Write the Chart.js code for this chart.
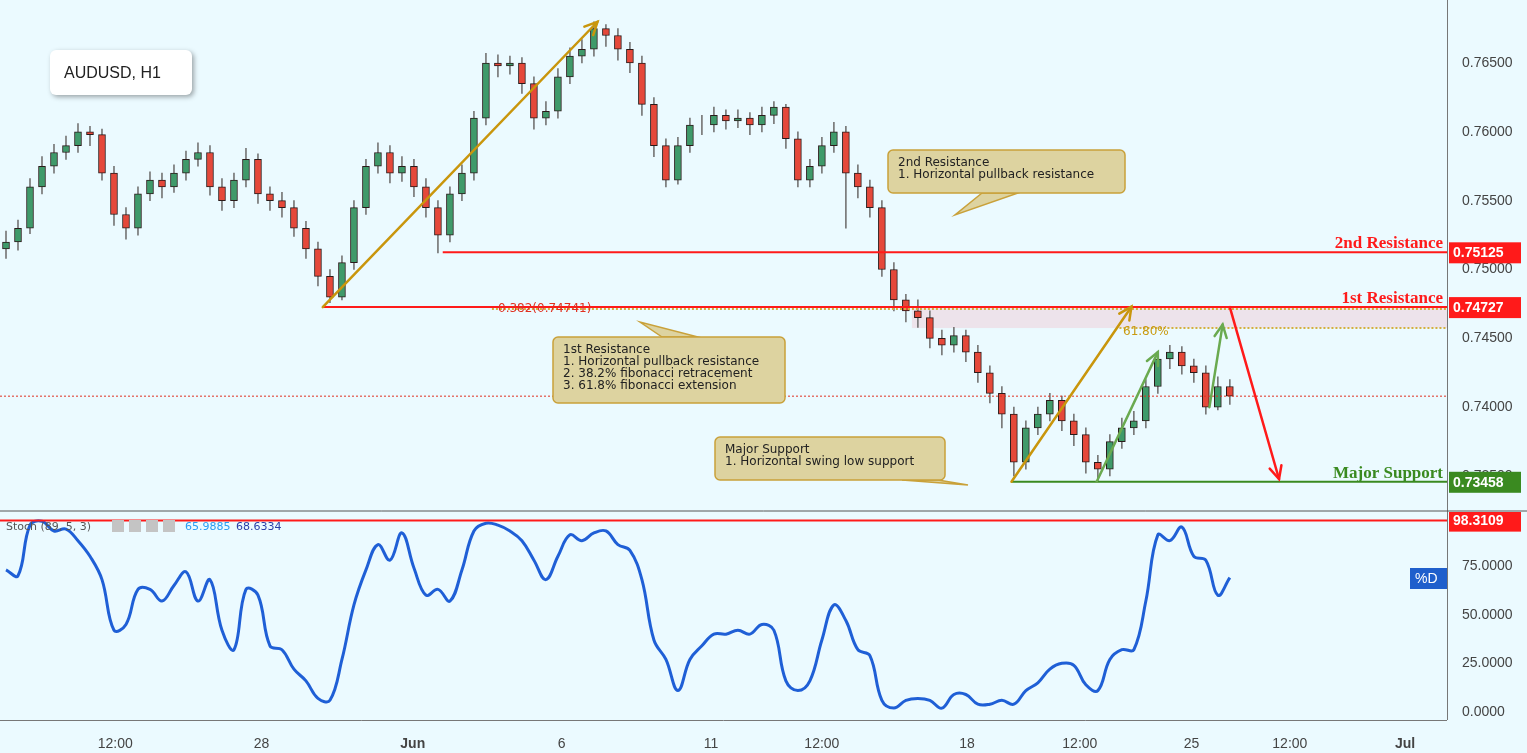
<!DOCTYPE html>
<html><head><meta charset="utf-8">
<script src="https://cdn.jsdelivr.net/npm/chart.js@4.4.0/dist/chart.umd.min.js"></script>
<style>
body{margin:0;background:#ebfaff;font-family:"Liberation Sans",Arial,sans-serif;overflow:hidden}
#wrap{position:relative;width:1527px;height:753px}
#top{position:absolute;left:0;top:0}
#bot{position:absolute;left:0;top:512px}
</style></head><body>
<div id="wrap"><canvas id="top" width="1527" height="512"></canvas><canvas id="bot" width="1527" height="241"></canvas></div>
<script>
// price candles (H1 sampled), first open then previous close
const firstOpen = 0.7515;
const closes = [0.7520,0.7530,0.7560,0.7575,0.7585,0.7590,0.7600,0.7598,0.7570,0.7540,0.7530,0.7555,0.7565,0.7560,0.7570,0.7580,0.7585,0.7560,0.7550,0.7565,0.7580,0.7555,0.7550,0.7545,0.7530,0.7515,0.7495,0.7480,0.7505,0.7545,0.7575,0.7585,0.7570,0.7575,0.7560,0.7545,0.7525,0.7555,0.7570,0.7610,0.7650,0.7648,0.7650,0.7635,0.7610,0.7615,0.7640,0.7655,0.7660,0.7675,0.7670,0.7660,0.7650,0.7620,0.7590,0.7565,0.7590,0.7605,0.7605,0.7612,0.7608,0.7610,0.7605,0.7612,0.7618,0.7595,0.7565,0.7575,0.7590,0.7600,0.7570,0.7560,0.7545,0.7500,0.7478,0.7470,0.7465,0.7450,0.7445,0.7452,0.7440,0.7425,0.7410,0.7395,0.7360,0.7385,0.7395,0.7405,0.7390,0.7380,0.7360,0.7355,0.7375,0.7385,0.7390,0.7415,0.7435,0.7440,0.7430,0.7425,0.7400,0.7415,0.7408];
const highs = [0.7528,0.7536,0.7566,0.7582,0.7591,0.7597,0.7606,0.7604,0.7602,0.7575,0.7545,0.7560,0.7571,0.7570,0.7576,0.7586,0.7592,0.7590,0.7566,0.7570,0.7588,0.7584,0.7560,0.7556,0.7550,0.7535,0.7520,0.7500,0.7510,0.7550,0.7580,0.7592,0.7590,0.7582,0.7580,0.7566,0.7550,0.7560,0.7576,0.7615,0.7657,0.7656,0.7655,0.7654,0.7640,0.7622,0.7646,0.7661,0.7667,0.7680,0.7678,0.7675,0.7665,0.7655,0.7625,0.7595,0.7596,0.7610,0.7612,0.7618,0.7616,0.7616,0.7614,0.7618,0.7622,0.7620,0.7600,0.7580,0.7596,0.7607,0.7604,0.7576,0.7565,0.7550,0.7505,0.7482,0.7478,0.7470,0.7456,0.7458,0.7456,0.7445,0.7430,0.7415,0.7400,0.7390,0.7400,0.7410,0.7408,0.7395,0.7385,0.7365,0.7380,0.7392,0.7397,0.7420,0.7440,0.7445,0.7444,0.7435,0.7430,0.7422,0.7420];
const lows = [0.7508,0.7514,0.7526,0.7555,0.7570,0.7580,0.7585,0.7590,0.7565,0.7532,0.7522,0.7525,0.7550,0.7552,0.7556,0.7565,0.7575,0.7554,0.7543,0.7545,0.7560,0.7548,0.7543,0.7538,0.7524,0.7508,0.7488,0.7476,0.7478,0.7500,0.7540,0.7570,0.7563,0.7564,0.7553,0.7538,0.7512,0.7520,0.7550,0.7565,0.7605,0.7640,0.7642,0.7628,0.7602,0.7605,0.7610,0.7635,0.7650,0.7655,0.7662,0.7652,0.7643,0.7612,0.7582,0.7560,0.7562,0.7585,0.7598,0.7600,0.7602,0.7603,0.7598,0.7600,0.7606,0.7588,0.7560,0.7560,0.7570,0.7585,0.7530,0.7552,0.7538,0.7495,0.7470,0.7462,0.7458,0.7443,0.7438,0.7440,0.7433,0.7418,0.7403,0.7385,0.7350,0.7355,0.7380,0.7390,0.7383,0.7372,0.7352,0.7346,0.7350,0.7370,0.7380,0.7385,0.7410,0.7428,0.7424,0.7418,0.7395,0.7398,0.7402];
const opens = closes.map((c, i) => i === 0 ? firstOpen : closes[i - 1]);

// stochastic %D
const stoch = [73,70,96,98,93,94,88,80,68,42,45,63,63,57,65,72,57,68,42,32,63,60,34,32,22,16,7,6,27,55,73,86,78,92,74,60,63,57,73,93,97,96,93,88,78,68,80,91,88,92,93,86,83,68,37,27,11,27,34,40,40,42,40,45,42,16,11,16,37,55,47,32,29,6,2,6,7,6,2,9,9,4,4,6,4,11,15,22,25,24,14,11,27,32,32,57,91,88,95,80,78,60,69];

const priceTicks = [0.735,0.740,0.745,0.750,0.755,0.760,0.765];
const stochTicks = [0,25,50,75];
const timeTickPos = [9.6,21.8,34.4,46.8,59.25,68.5,80.6,90,99.3,107.5,117.1];
const timeTickLabels = ['12:00','28','Jun','6','11','12:00','18','12:00','25','12:00','Jul'];

const resistance2 = 0.75125, resistance1 = 0.74727, support = 0.73458, lastPrice = 0.7408, fib618 = 0.74575;
const stochMax = 98.3109;

const bg = '#ebfaff';
const xMax = 120.6;

function arrow(ctx, x1, y1, x2, y2, color, w) {
  ctx.save();
  ctx.strokeStyle = color; ctx.lineWidth = w; ctx.lineCap = 'round';
  ctx.beginPath(); ctx.moveTo(x1, y1); ctx.lineTo(x2, y2); ctx.stroke();
  const a = Math.atan2(y2 - y1, x2 - x1), L = 14;
  ctx.beginPath();
  ctx.moveTo(x2 - L * Math.cos(a - 0.45), y2 - L * Math.sin(a - 0.45));
  ctx.lineTo(x2, y2);
  ctx.lineTo(x2 - L * Math.cos(a + 0.45), y2 - L * Math.sin(a + 0.45));
  ctx.stroke();
  ctx.restore();
}

function callout(ctx, x, y, w, h, tx, ty, bx, lines) {
  ctx.save();
  ctx.fillStyle = '#ddd3a0'; ctx.strokeStyle = '#c9a13a'; ctx.lineWidth = 1.5;
  const by = ty > y + h ? y + h : y;
  ctx.beginPath();
  ctx.moveTo(bx - 18, by); ctx.lineTo(tx, ty); ctx.lineTo(bx + 18, by);
  ctx.closePath(); ctx.fill(); ctx.stroke();
  ctx.beginPath();
  ctx.roundRect(x, y, w, h, 5);
  ctx.fill(); ctx.stroke();
  ctx.fillStyle = '#222'; ctx.font = '12px "DejaVu Sans"'; ctx.textBaseline = 'top';
  lines.forEach((t, i) => ctx.fillText(t, x + 10, y + 7 + i * 12));
  ctx.restore();
}

function tag(ctx, x, y, text, color, w) {
  ctx.save();
  ctx.fillStyle = color; ctx.fillRect(x, y - 10, w || 72, 21);
  ctx.fillStyle = '#fff'; ctx.font = 'bold 14px "Liberation Sans"'; ctx.textBaseline = 'middle';
  ctx.fillText(text, x + 4, y + 1);
  ctx.restore();
}

function axisLabels(ctx, y, ticks, fmt) {
  ctx.save();
  ctx.fillStyle = '#444'; ctx.font = '14px "Liberation Sans"'; ctx.textBaseline = 'middle';
  ticks.forEach(v => ctx.fillText(fmt(v), 1462, y.getPixelForValue(v)));
  ctx.restore();
}

const topOverlay = {
  id: 'topOverlay',
  beforeDraw(chart) {
    const { ctx, chartArea: ca, scales: { x, y } } = chart;
    ctx.save();
    ctx.fillStyle = bg; ctx.fillRect(0, 0, chart.width, chart.height);
    ctx.fillStyle = 'rgba(240,200,210,0.45)';
    ctx.fillRect(x.getPixelForValue(76), y.getPixelForValue(resistance1), ca.right - x.getPixelForValue(76), y.getPixelForValue(fib618) - y.getPixelForValue(resistance1));
    ctx.restore();
  },
  afterDatasetsDraw(chart) {
    const { ctx, chartArea: ca, scales: { x, y } } = chart;
    const px = v => x.getPixelForValue(v), py = v => y.getPixelForValue(v);
    ctx.save();
    ctx.setLineDash([2, 2]); ctx.strokeStyle = '#e03020'; ctx.lineWidth = 1;
    ctx.beginPath(); ctx.moveTo(ca.left, py(lastPrice)); ctx.lineTo(ca.right, py(lastPrice)); ctx.stroke();
    ctx.strokeStyle = '#d4b040'; ctx.lineWidth = 2;
    ctx.beginPath(); ctx.moveTo(px(93.3), py(fib618)); ctx.lineTo(ca.right, py(fib618)); ctx.stroke();
    ctx.beginPath(); ctx.moveTo(px(41), py(resistance1) + 2); ctx.lineTo(ca.right, py(resistance1) + 2); ctx.stroke();
    ctx.setLineDash([]);
    ctx.strokeStyle = '#ff1a1a'; ctx.lineWidth = 2;
    ctx.beginPath(); ctx.moveTo(px(36.9), py(resistance2)); ctx.lineTo(ca.right, py(resistance2)); ctx.stroke();
    ctx.beginPath(); ctx.moveTo(px(26.9), py(resistance1)); ctx.lineTo(ca.right, py(resistance1)); ctx.stroke();
    ctx.strokeStyle = '#3a8a20';
    ctx.beginPath(); ctx.moveTo(px(84.3), py(support)); ctx.lineTo(ca.right, py(support)); ctx.stroke();

    ctx.font = '12px "DejaVu Sans"';
    ctx.fillStyle = '#e03020'; ctx.fillText('0.382(0.74741)', 498, 312);
    ctx.fillStyle = '#c99a10'; ctx.fillText('61.80%', 1123, 335);

    arrow(ctx, px(26.9), py(resistance1), px(49.8), py(0.7680), '#c9960c', 2.5);
    arrow(ctx, px(84.3), py(support), px(94.3), py(0.7473), '#c9960c', 2.5);
    arrow(ctx, px(91.4), py(support), px(96.5), py(0.7440), '#6aaa50', 2.5);
    arrow(ctx, px(100.8), py(0.7400), px(101.9), py(0.7460), '#6aaa50', 2.5);
    arrow(ctx, px(102.5), py(resistance1), px(106.6), py(support + 0.0002), '#ff1a1a', 2.5);

    ctx.font = 'bold 17px "Liberation Serif"'; ctx.textAlign = 'right';
    ctx.fillStyle = '#ff1a1a';
    ctx.fillText('2nd Resistance', 1443, py(resistance2) - 4);
    ctx.fillText('1st Resistance', 1443, py(resistance1) - 4);
    ctx.fillStyle = '#3a8a20';
    ctx.fillText('Major Support', 1443, py(support) - 4);
    ctx.textAlign = 'left';

    callout(ctx, 888, 150, 237, 43, 955, 215, 1000, ['2nd Resistance', '1. Horizontal pullback resistance']);
    callout(ctx, 553, 337, 232, 66, 640, 322, 680, ['1st Resistance', '1. Horizontal pullback resistance', '2. 38.2% fibonacci retracement', '3. 61.8% fibonacci extension']);
    callout(ctx, 715, 437, 230, 43, 968, 485, 920, ['Major Support', '1. Horizontal swing low support']);

    ctx.shadowColor = 'rgba(0,0,0,0.35)'; ctx.shadowBlur = 5; ctx.shadowOffsetX = 2; ctx.shadowOffsetY = 2;
    ctx.fillStyle = '#fff'; ctx.beginPath(); ctx.roundRect(50, 50, 142, 45, 6); ctx.fill();
    ctx.shadowColor = 'transparent';
    ctx.fillStyle = '#222'; ctx.font = '16px "Liberation Sans"'; ctx.fillText('AUDUSD, H1', 64, 78);

    ctx.strokeStyle = '#777'; ctx.lineWidth = 1;
    ctx.beginPath(); ctx.moveTo(1447.5, 0); ctx.lineTo(1447.5, chart.height); ctx.stroke();
    ctx.strokeStyle = '#555';
    ctx.beginPath(); ctx.moveTo(0, 511); ctx.lineTo(chart.width, 511); ctx.stroke();
    axisLabels(ctx, y, priceTicks, v => v.toFixed(5));
    tag(ctx, 1449, py(resistance2), '0.75125', '#ff1a1a');
    tag(ctx, 1449, py(resistance1), '0.74727', '#ff1a1a');
    tag(ctx, 1449, py(support), '0.73458', '#3a8a20');
    ctx.restore();
  }
};

const botOverlay = {
  id: 'botOverlay',
  beforeDraw(chart) {
    const { ctx } = chart;
    ctx.save(); ctx.fillStyle = bg; ctx.fillRect(0, 0, chart.width, chart.height); ctx.restore();
  },
  afterDatasetsDraw(chart) {
    const { ctx, chartArea: ca, scales: { y } } = chart;
    ctx.save();
    ctx.strokeStyle = '#ff1a1a'; ctx.lineWidth = 2;
    ctx.beginPath(); ctx.moveTo(0, y.getPixelForValue(stochMax)); ctx.lineTo(1447, y.getPixelForValue(stochMax)); ctx.stroke();
    ctx.strokeStyle = '#777'; ctx.lineWidth = 1;
    ctx.beginPath(); ctx.moveTo(1447.5, 0); ctx.lineTo(1447.5, 208); ctx.stroke();
    ctx.beginPath(); ctx.moveTo(0, 208.5); ctx.lineTo(1447, 208.5); ctx.stroke();
    axisLabels(ctx, y, stochTicks, v => v.toFixed(4));
    tag(ctx, 1449, y.getPixelForValue(stochMax), '98.3109', '#ff1a1a');
    ctx.fillStyle = '#1f5fcc';
    ctx.fillRect(1410, 56, 37, 21);
    ctx.fillStyle = '#fff'; ctx.font = '14px "Liberation Sans"'; ctx.textBaseline = 'middle'; ctx.fillText('%D', 1415, 67);
    ctx.textBaseline = 'alphabetic';
    ctx.font = '11px "DejaVu Sans"';
    ctx.fillStyle = '#555'; ctx.fillText('Stoch (89, 5, 3)', 6, 18);
    ctx.fillStyle = '#c4c4c4'; ctx.fillRect(112, 8, 12, 12); ctx.fillRect(129, 8, 12, 12); ctx.fillRect(146, 8, 12, 12); ctx.fillRect(163, 8, 12, 12);
    ctx.fillStyle = '#2a9df4'; ctx.fillText('65.9885', 185, 18);
    ctx.fillStyle = '#2a3fa8'; ctx.fillText('68.6334', 236, 18);
    ctx.restore();
  }
};

new Chart(document.getElementById('top'), {
  type: 'bar',
  data: {
    datasets: [
      {
        data: lows.map((l, i) => ({ x: i + 0.5, y: [l, highs[i]] })),
        backgroundColor: '#777', barThickness: 1, grouped: false, order: 2
      },
      {
        data: opens.map((o, i) => ({ x: i + 0.5, y: [o, closes[i]] })),
        backgroundColor: closes.map((c, i) => c >= opens[i] ? '#3f9a6a' : '#e5483a'),
        borderColor: '#2a1a1a', borderWidth: 1, borderSkipped: false,
        barThickness: 7, grouped: false, order: 1
      }
    ]
  },
  options: {
    responsive: false, animation: false,
    layout: { padding: { left: 0, right: 80, top: 0, bottom: 2 } },
    plugins: { legend: { display: false }, tooltip: { enabled: false } },
    scales: {
      x: { type: 'linear', min: 0, max: xMax, display: false, offset: false },
      y: { min: 0.73253, max: 0.76958, display: false }
    }
  },
  plugins: [topOverlay]
});

new Chart(document.getElementById('bot'), {
  type: 'line',
  data: {
    datasets: [{
      data: stoch.map((v, i) => ({ x: i + 0.5, y: v })),
      borderColor: '#1f5fd6', borderWidth: 3, pointRadius: 0, tension: 0.4, fill: false
    }]
  },
  options: {
    responsive: false, animation: false,
    layout: { padding: { top: 3, right: 80, left: 0, bottom: 0 } },
    plugins: { legend: { display: false }, tooltip: { enabled: false } },
    scales: {
      x: {
        type: 'linear', min: 0, max: xMax,
        grid: { display: false }, border: { display: false },
        afterFit: s => { s.height = 33; },
        afterBuildTicks: s => { s.ticks = timeTickPos.map(v => ({ value: v })); },
        ticks: {
          color: '#444', maxRotation: 0, autoSkip: false, padding: 8,
          font: ctx => ({ size: 14, family: 'Liberation Sans', weight: ['Jun', 'Jul'].includes(timeTickLabels[ctx.index]) ? 'bold' : 'normal' }),
          callback: (v, i) => timeTickLabels[i]
        }
      },
      y: { min: -4.1, max: 101.2, display: false }
    }
  },
  plugins: [botOverlay]
});
</script>
</body></html>
